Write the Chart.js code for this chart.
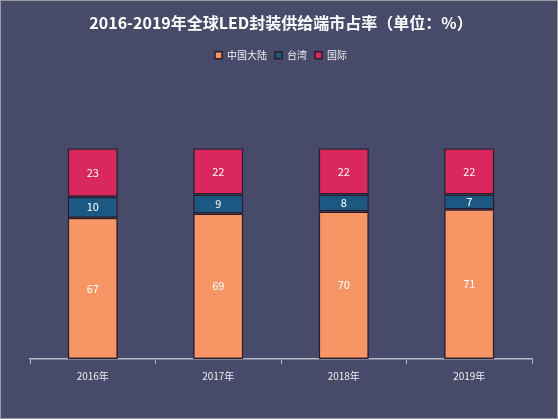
<!DOCTYPE html>
<html>
<head>
<meta charset="utf-8">
<script src="https://cdn.jsdelivr.net/npm/chart.js@4.4.1/dist/chart.umd.min.js"></script>
<style>
  html, body { margin: 0; padding: 0; background: #fff; }
  #wrap {
    width: 556px; height: 417px;
    border: 1px solid #9a9aa0;
    background: #474a68;
  }
</style>
</head>
<body>
<div id="wrap"><canvas id="c" width="556" height="417"></canvas></div>
<script>
  const years = ["2016年", "2017年", "2018年", "2019年"];
  const mainland = [67, 69, 70, 71];
  const taiwan = [10, 9, 8, 7];
  const intl = [23, 22, 22, 22];

  const FONT = "'Noto Sans CJK SC', 'Noto Sans', sans-serif";

  // 段内数值标签
  const valueLabels = {
    id: "valueLabels",
    afterDatasetsDraw(chart) {
      const ctx = chart.ctx;
      ctx.save();
      ctx.fillStyle = "#ffffff";
      ctx.font = "11px " + FONT;
      ctx.textAlign = "center";
      ctx.textBaseline = "middle";
      chart.data.datasets.forEach((ds, i) => {
        chart.getDatasetMeta(i).data.forEach((bar, j) => {
          const p = bar.getProps(["x", "y", "base"], true);
          ctx.fillText(ds.data[j], p.x, (p.y + p.base) / 2);
        });
      });
      ctx.restore();
    }
  };

  // 图例下方留白
  const legendSpace = {
    id: "legendSpace",
    beforeInit(chart) {
      const fit = chart.legend.fit;
      chart.legend.fit = function () {
        fit.call(this);
        this.height += 78;
      };
    }
  };

  new Chart(document.getElementById("c"), {
    type: "bar",
    data: {
      labels: years,
      datasets: [
        { label: "中国大陆", data: mainland, backgroundColor: "#f89565" },
        { label: "台湾", data: taiwan, backgroundColor: "#1b5983" },
        { label: "国际", data: intl, backgroundColor: "#d8285e" }
      ]
    },
    options: {
      responsive: false,
      animation: false,
      layout: { padding: { left: 29, right: 25, top: 0, bottom: 30 } },
      datasets: {
        bar: {
          borderColor: "#2b1d2c",
          borderWidth: 1.5,
          borderSkipped: false,
          barPercentage: 0.8,
          categoryPercentage: 0.5
        }
      },
      scales: {
        x: {
          stacked: true,
          grid: {
            display: true,
            drawOnChartArea: false,
            drawTicks: true,
            tickLength: 5,
            color: "#b5b8c8",
            offset: true
          },
          border: { display: true, color: "#b5b8c8", width: 1.5 },
          ticks: { color: "#eeeef2", font: { family: FONT, size: 10 }, padding: 6 }
        },
        y: {
          stacked: true,
          display: false,
          min: 0,
          max: 100
        }
      },
      plugins: {
        title: {
          display: true,
          text: "2016-2019年全球LED封装供给端市占率（单位：%）",
          color: "#ffffff",
          font: { family: FONT, size: 16, weight: "bold" },
          padding: { top: 12, bottom: 10 }
        },
        legend: {
          labels: {
            color: "#eeeef2",
            font: { family: FONT, size: 10 },
            boxWidth: 7,
            boxHeight: 7,
            padding: 8
          }
        },
        tooltip: { enabled: false }
      }
    },
    plugins: [valueLabels, legendSpace]
  });
</script>
</body>
</html>
